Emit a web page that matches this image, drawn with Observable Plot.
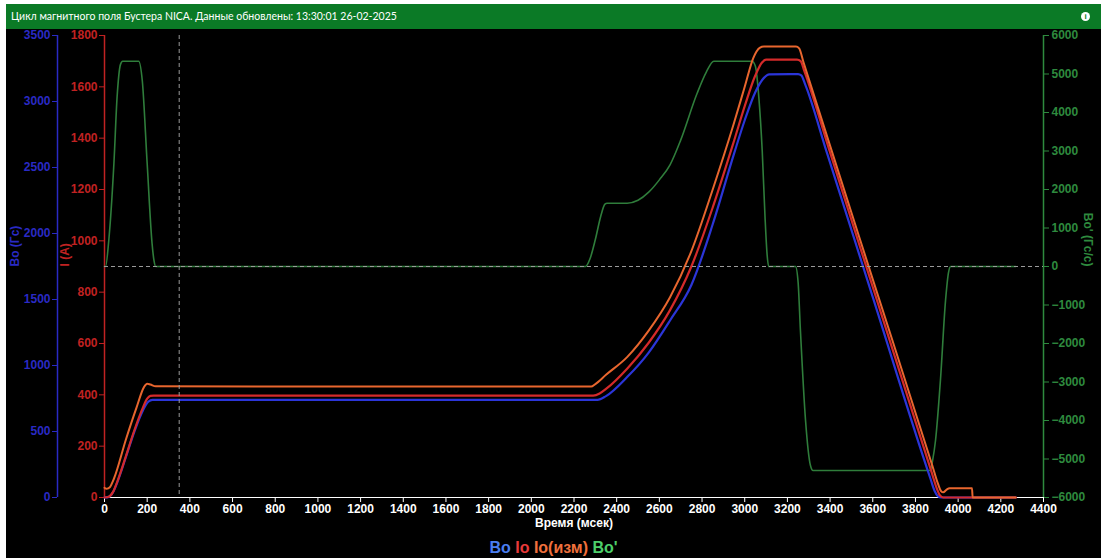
<!DOCTYPE html>
<html><head><meta charset="utf-8">
<script src="https://cdn.jsdelivr.net/npm/d3@7"></script>
<script src="https://cdn.jsdelivr.net/npm/@observablehq/plot@0.6"></script>
<style>
html,body{margin:0;padding:0;background:#fff;width:1101px;height:558px;overflow:hidden}
#wrap{position:absolute;left:6px;top:4px;width:1095px;height:554px;background:#000}
#title{position:relative;height:25px;background:#0b7a26;color:#fff;font:10.5px Lato,sans-serif;line-height:25px;padding-left:5px;white-space:nowrap}
#info{position:absolute;right:11px;top:8px;width:9px;height:9px;border-radius:50%;background:#fff;color:#0b7a26;font:bold 8px "Liberation Sans",sans-serif;text-align:center;line-height:9px}
#chart svg{display:block}
#legend{height:21px;padding-top:3px;text-align:center;font:bold 16px "Liberation Sans",Arial,sans-serif;line-height:21px}
</style>
</head><body>
<div id="wrap">
  <div id="title">Цикл магнитного поля Бустера NICA. Данные обновлены: 13:30:01 26-02-2025<div id="info">i</div></div>
  <div id="chart"></div>
  <div id="legend"><span style="color:#4a7ef0">Bo</span> <span style="color:#e83a3a">Io</span> <span style="color:#f0703c">Io(изм)</span> <span style="color:#4ccf6a">Bo'</span></div>
</div>
<script>
// Io (A), red
const ioT = [0,20,40,60,100,140,180,200,215,230,2290,2320,2350,2450,2550,2650,2750,2850,2950,3000,3050,3080,3100,3245,3262,3280,3397,3600,3880,3900,3915,3930,4270];
const ioV = [0,3,22,62,160,262,350,385,396,397,397,405,423,503,603,730,900,1130,1390,1525,1645,1694,1706,1706,1700,1660,1352,820,87,35,8,0,0];
// Io(изм) (A), orange
const iomT = [0,10,25,45,100,150,185,200,215,240,2280,2300,2350,2450,2550,2650,2750,2850,2950,3000,3040,3070,3090,3240,3255,3275,3402,3600,3880,3905,3920,3930,3945,3960,4065,4068,4270];
const iomV = [38,34,40,75,225,350,430,443,440,433,432,442,478,548,650,780,960,1200,1460,1600,1712,1752,1757,1757,1750,1697,1365,850,122,55,25,20,30,36,36,0,0];
// Bo (Гс), blue
const boT = [0,20,40,60,100,140,180,205,225,2310,2350,2450,2550,2650,2750,2850,2950,3000,3050,3090,3115,3250,3265,3285,3382,3600,3870,3890,3905,3920,4270];
const boV = [0,5,40,115,305,500,660,725,740,740,768,914,1098,1341,1610,2070,2605,2858,3072,3179,3206,3208,3198,3122,2628,1518,144,49,10,0,0];
// Bo' (Гс/с), green
const bdT = [0,5,20,44,59,75,85,160,177,200,223,232,240,2254,2275,2300,2325,2345,2355,2449,2500,2550,2600,2650,2699,2777,2820,2855,3035,3050,3066,3082,3095,3105,3112,3238,3250,3261,3285,3308,3320,3870,3880,3894,3917,3941,3955,3965,4270];
const bdV = [0,0,675,2667,4400,5250,5333,5333,4831,2667,590,150,0,0,200,700,1300,1620,1644,1644,1720,1930,2250,2640,3270,4500,5050,5333,5333,5200,4400,3000,1300,300,0,0,-400,-1660,-4000,-5170,-5300,-5300,-5050,-4520,-2960,-880,-150,0,0];

// tick values
const xTicks = d3.range(0, 4401, 200);
const ioTicks = d3.range(0, 1801, 200);
const boTicks = d3.range(0, 3501, 500);
const bdTicks = d3.range(-6000, 6001, 1000);

const kBo = 1800 / 3500;
const kBd = 1800 / 12000;
const toBd = v => (v + 6000) * kBd;
const fmt = d3.format("d");

const cBlueAx = "#2a2ac4", cRedAx = "#c02222", cGreenAx = "#2e8a3e";

const chart = Plot.plot({
  width: 1095, height: 505,
  marginLeft: 98, marginRight: 58, marginTop: 6, marginBottom: 37,
  style: {background: "#000", color: "#fff", fontFamily: "Liberation Sans, Arial, sans-serif", fontSize: "12px"},
  x: {domain: [0, 4400], label: null},
  y: {domain: [0, 1800], label: null},
  marks: [
    // x axis
    Plot.axisX(xTicks, {anchor: "bottom", tickSize: 5, tickPadding: 2, color: "#fff", label: null, fontWeight: "bold", tickFormat: fmt}),
    Plot.ruleY([0], {stroke: "#fff", strokeWidth: 1.2}),
    Plot.text(["Время (мсек)"], {frameAnchor: "bottom", dy: 29, fill: "#fff", fontSize: 12, fontWeight: "bold"}),
    // Io axis (red)
    Plot.axisY(ioTicks, {anchor: "left", tickSize: 5, tickPadding: 2, color: cRedAx, label: null, fontWeight: "bold", tickFormat: fmt}),
    Plot.ruleX([0], {stroke: cRedAx, strokeWidth: 1.5}),
    Plot.text(["I (A)"], {frameAnchor: "left", dx: -39, rotate: -90, fill: cRedAx, fontSize: 12, fontWeight: "bold"}),
    // Bo axis (blue)
    Plot.axisY(boTicks.map(v => v * kBo), {anchor: "left", dx: -47, tickSize: 5, tickPadding: 2, color: cBlueAx, label: null, fontWeight: "bold", tickFormat: d => fmt(Math.round(d / kBo))}),
    Plot.ruleX([0], {dx: -47, stroke: cBlueAx, strokeWidth: 1.5}),
    Plot.text(["Bo (Гс)"], {frameAnchor: "left", dx: -89, rotate: -90, fill: cBlueAx, fontSize: 12, fontWeight: "bold"}),
    // Bo' axis (green, right)
    Plot.axisY(bdTicks.map(toBd), {anchor: "right", tickSize: 5, tickPadding: 3, color: cGreenAx, label: null, fontWeight: "bold", tickFormat: d => fmt(Math.round(d / kBd - 6000))}),
    Plot.ruleX([4400], {stroke: cGreenAx, strokeWidth: 1.5}),
    Plot.text(["Bo' (Гс/с)"], {frameAnchor: "right", dx: 44, rotate: 90, fill: cGreenAx, fontSize: 12, fontWeight: "bold"}),
    // series
    Plot.line(bdT, {x: d => d, y: (d, i) => toBd(bdV[i]), stroke: "#2f7d3b", strokeWidth: 1.6, curve: "monotone-x"}),
    Plot.line(boT, {x: d => d, y: (d, i) => boV[i] * kBo, stroke: "#2b35d8", strokeWidth: 2.2, curve: "monotone-x"}),
    Plot.line(ioT, {x: d => d, y: (d, i) => ioV[i], stroke: "#d42a2a", strokeWidth: 2.2, curve: "monotone-x"}),
    Plot.line(iomT, {x: d => d, y: (d, i) => iomV[i], stroke: "#e8662e", strokeWidth: 2, curve: "monotone-x"}),
    // reference lines
    Plot.ruleY([toBd(0)], {stroke: "#9a9a9a", strokeDasharray: "4,3", strokeWidth: 1}),
    Plot.ruleX([350], {stroke: "#9a9a9a", strokeDasharray: "4,3", strokeWidth: 1})
  ]
});
document.getElementById("chart").appendChild(chart);
</script>
</body></html>
